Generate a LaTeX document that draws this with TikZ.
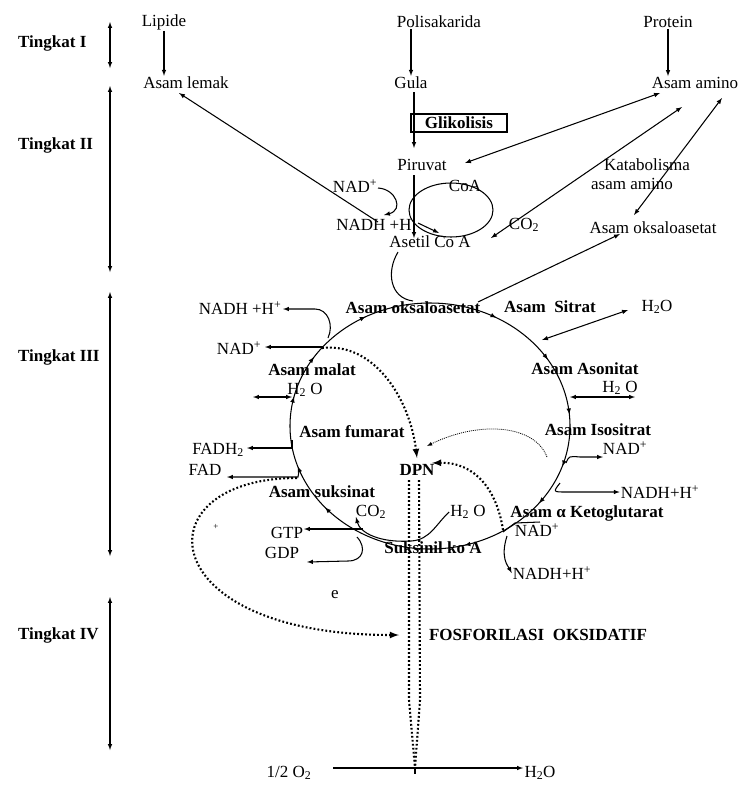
\documentclass[tikz,border=0pt]{standalone}
\usepackage{fontspec}
\setmainfont{Liberation Serif}
\usetikzlibrary{arrows}
\usetikzlibrary{decorations.markings}

\begin{document}
\begin{tikzpicture}[x=1pt,y=-1pt,>=latex,font=\fontsize{17}{20}\selectfont]
        \tikzset{line/.style={line width=1.05pt}};
        \tikzset{lbl/.style={inner sep=1pt}};
        \tikzset{bold/.style={inner sep=1pt,font=\fontsize{17}{20}\selectfont\bfseries}};
        \tikzset{dots/.style={line width=2.1pt,dash pattern=on 1.8pt off 2.2pt}};
        \tikzset{fine/.style={line width=0.8pt,dash pattern=on 1pt off 1pt}};
        \tikzset{cycmarks/.style={postaction=decorate,decoration={markings,
            mark=at position 0.083 with {\arrow{latex}},
            mark=at position 0.164 with {\arrow{latex}},
            mark=at position 0.236 with {\arrow{latex}},
            mark=at position 0.300 with {\arrow{latex}},
            mark=at position 0.353 with {\arrow{latex}},
            mark=at position 0.458 with {\arrow{latex}},
            mark=at position 0.640 with {\arrow{latex}},
            mark=at position 0.700 with {\arrow{latex}},
            mark=at position 0.786 with {\arrow{latex}},
            mark=at position 0.840 with {\arrow{latex}},
            mark=at position 0.920 with {\arrow{latex}}}}};
        \useasboundingbox (0,0) rectangle (740,785);

        % tingkat
        \node[bold,anchor=west] (t1) at (17,43) {Tingkat I};
        \node[bold,anchor=west] (t2) at (17,145) {Tingkat II};
        \node[bold,anchor=west] (t3) at (17,357) {Tingkat III};
        \node[bold,anchor=west] (t4) at (17,635) {Tingkat IV};
        \coordinate (t1a) at (110,22);  \coordinate (t1b) at (110,68);
        \coordinate (t2a) at (110,86);  \coordinate (t2b) at (110,272);
        \coordinate (t3a) at (110,292); \coordinate (t3b) at (110,556);
        \coordinate (t4a) at (110,597); \coordinate (t4b) at (110,750);
        \draw[line,<->] (t1a) -- (t1b);
        \draw[line,<->] (t2a) -- (t2b);
        \draw[line,<->] (t3a) -- (t3b);
        \draw[line,<->] (t4a) -- (t4b);

        % tingkat I - II
        \node[lbl] (lipide) at (164,22) {Lipide};
        \node[lbl] (lemak) at (186,83) {Asam lemak};
        \node[lbl] (polisak) at (439,22) {Polisakarida};
        \node[lbl] (gula) at (411,83) {Gula};
        \node[lbl] (protein) at (668,22) {Protein};
        \node[lbl] (amino) at (695,83) {Asam amino};
        \draw[line,->] (lipide.south) -- (lipide.south |- lemak.north);
        \draw[line,->] (polisak.south -| gula) -- (gula.north);
        \draw[line,->] (protein.south) -- (protein.south |- amino.north);

        \node[bold,draw,line width=1.05pt,minimum width=96pt,minimum height=18pt,inner sep=0pt] (gliko) at (459,123) {Glikolisis};
        \node[lbl] (piruvat) at (422,165) {Piruvat};
        \node[lbl] (nadp1) at (355,186) {NAD\textsuperscript{+}};
        \node[lbl] (coa) at (465,186) {CoA};
        \node[lbl] (nadh1) at (374,225) {NADH +H};
        \node[lbl] (co2a) at (524,225) {CO\textsubscript{2}};
        \node[lbl] (asetil) at (430,242) {Asetil Co A};
        \node[lbl] (katab) at (647,165) {Katabolisma};
        \node[lbl] (katab2) at (632,184) {asam amino};
        \node[lbl] (oksr) at (653,228) {Asam oksaloasetat};

        \coordinate (g1) at (414,92);  \coordinate (g2) at (414,148);
        \coordinate (p1) at (414,175); \coordinate (p2) at (414,238);
        \draw[line,->] (g1) -- (g2);
        \draw[line,->] (p1) -- (p2);
        \draw[line] (451,210) ellipse [x radius=42,y radius=27];
        \coordinate (cl1) at (418,223); \coordinate (cl2) at (439,233);
        \draw[line,->] (cl1) -- (cl2);
        \coordinate (n1) at (378,188); \coordinate (n2) at (384,215);
        \draw[line,->] (n1) .. controls (396,189) and (404,210) .. (n2);

        \coordinate (am1) at (660,93);  \coordinate (pv1) at (465,163);
        \coordinate (am2) at (682,107); \coordinate (as1) at (491,238);
        \coordinate (am3) at (722,98);  \coordinate (ok1) at (634,215);
        \coordinate (nl1) at (378,222); \coordinate (lm1) at (179,93);
        \draw[line,<->] (am1) -- (pv1);
        \draw[line,<->] (am2) -- (as1);
        \draw[line,<->] (am3) -- (ok1);
        \draw[line,->] (nl1) -- (lm1);

        % siklus
        \coordinate (cyc) at (430,426);
        \draw[line,cycmarks] (430,303) arc[start angle=-90,end angle=270,x radius=140,y radius=123];
        \coordinate (ac1) at (398,252); \coordinate (ac2) at (413,301);
        \draw[line] (ac1) .. controls (386,272) and (390,298) .. (ac2);
        \coordinate (ko1) at (478,302); \coordinate (ko2) at (620,234);
        \draw[line,->] (ko1) -- (ko2);

        \node[bold] (oks) at (413,308) {Asam oksaloasetat};
        \node[bold] (sitrat) at (550,307) {Asam\ \ Sitrat};
        \node[lbl] (h2oa) at (657,307) {H\textsubscript{2}O};
        \node[bold] (asonitat) at (585,369) {Asam Asonitat};
        \node[lbl] (h2ob) at (620,388) {H\textsubscript{2} O};
        \node[bold] (isositrat) at (598,430) {Asam Isositrat};
        \node[lbl] (nadc) at (625,448) {NAD\textsuperscript{+}};
        \node[lbl] (nadhc) at (660,492) {NADH+H\textsuperscript{+}};
        \node[bold] (keto) at (587,513) {Asam α Ketoglutarat};
        \node[lbl] (nadd) at (537,530) {NAD\textsuperscript{+}};
        \node[lbl] (nadhd) at (552,573) {NADH+H\textsuperscript{+}};
        \node[bold] (suksinil) at (433,548) {Suksinil ko A};
        \node[lbl] (h2oc) at (468,512) {H\textsubscript{2} O};
        \node[lbl] (co2b) at (371,512) {CO\textsubscript{2}};
        \node[lbl] (gtp) at (287,533) {GTP};
        \node[lbl] (gdp) at (282,553) {GDP};
        \node[bold] (suksinat) at (322,492) {Asam suksinat};
        \node[lbl] (fad) at (205,470) {FAD};
        \node[lbl] (fadh) at (218,450) {FADH\textsubscript{2}};
        \node[bold] (fumarat) at (352,432) {Asam fumarat};
        \node[lbl] (h2od) at (305,390) {H\textsubscript{2} O};
        \node[bold] (malat) at (312,370) {Asam malat};
        \node[lbl] (nade) at (239,348) {NAD\textsuperscript{+}};
        \node[lbl] (nadhe) at (240,308) {NADH +H\textsuperscript{+}};
        \node[bold] (dpn) at (417,470) {DPN};
        \node[lbl] (e) at (335,595) {e};
        \node[lbl,font=\fontsize{9}{10}\selectfont] (plus) at (216,527) {+};

        \coordinate (sa1) at (542,340); \coordinate (sa2) at (628,310);
        \draw[line,<->] (sa1) -- (sa2);
        \coordinate (sb1) at (570,397); \coordinate (sb2) at (635,397);
        \draw[line,<->] (sb1) -- (sb2);
        \coordinate (ic1) at (566,463); \coordinate (ic2) at (603,457);
        \draw[line,->] (ic1) .. controls (569,456) .. (580,457) -- (ic2);
        \coordinate (ic3) at (560,483);
        \draw[line,->] (ic3) .. controls (553,492) .. (566,492) -- (nadhc.west);
        \coordinate (kd1) at (503,532);
        \draw[line] (kd1) -- (515,523) -- (540,522);
        \coordinate (kd2) at (507,536);
        \draw[line,->] (kd2) .. controls (500,558) and (508,566) .. (nadhd.west);
        \coordinate (sk1) at (411,541);
        \draw[line] (sk1) .. controls (430,540) and (436,524) .. (h2oc.west);
        \coordinate (sk2) at (356,517);
        \draw[line,->] (sk1) .. controls (380,543) and (360,533) .. (sk2);
        \coordinate (gt1) at (363,529); \coordinate (gt2) at (304,529);
        \draw[line,->] (gt1) -- (gt2);
        \coordinate (gd1) at (357,537); \coordinate (gd2) at (307,562);
        \draw[line,->] (gd1) .. controls (367,548) and (363,561) .. (348,561) -- (gd2);
        \coordinate (fd1) at (299,471); \coordinate (fd2) at (227,477);
        \draw[line,->] (fd1) -- (298,477) -- (fd2);
        \coordinate (fh1) at (292,440); \coordinate (fh2) at (247,448);
        \draw[line,->] (fh1) -- (292,448) -- (fh2);
        \coordinate (hd1) at (292,397); \coordinate (hd2) at (253,397);
        \draw[line,<->] (hd1) -- (hd2);
        \coordinate (ne1) at (323,347); \coordinate (ne2) at (265,347);
        \draw[line,->] (ne1) -- (ne2);
        \coordinate (nh1) at (328,338); \coordinate (nh2) at (283,309);
        \draw[line,->] (nh1) .. controls (334,325) and (328,309) .. (315,309) -- (nh2);

        % elektron
        \node[bold] (fosfo) at (538,635) {FOSFORILASI\ \ OKSIDATIF};
        \coordinate (dl1) at (322,348); \coordinate (dl2) at (417,458);
        \draw[dots,->] (dl1) .. controls (375,342) and (410,400) .. (dl2);
        \coordinate (fn1) at (547,457); \coordinate (fn2) at (427,446);
        \draw[fine,->] (fn1) .. controls (535,425) and (480,420) .. (fn2);
        \coordinate (dk1) at (503,530); \coordinate (dk2) at (432,463);
        \draw[dots,->] (dk1) .. controls (497,490) and (475,462) .. (dk2);
        \coordinate (lp1) at (297,478); \coordinate (lp2) at (399,635);
        \draw[dots,->] (lp1) .. controls (140,478) and (150,635) .. (lp2);
        \coordinate (vl1) at (409,480); \coordinate (vl2) at (419,480);
        \coordinate (vb) at (415,768);
        \draw[dots] (vl1) -- (409,700) -- (vb);
        \draw[dots] (vl2) -- (420,700) -- (vb);

        \node[lbl] (halfo) at (289,773) {1/2 O\textsubscript{2}};
        \node[lbl] (h2of) at (540,773) {H\textsubscript{2}O};
        \coordinate (o2s) at (333,768); \coordinate (o2e) at (523,768);
        \draw[line,->] (o2s) -- (o2e);
        \draw[line] (vb) -- (415,774);
    \end{tikzpicture}
\end{document}
